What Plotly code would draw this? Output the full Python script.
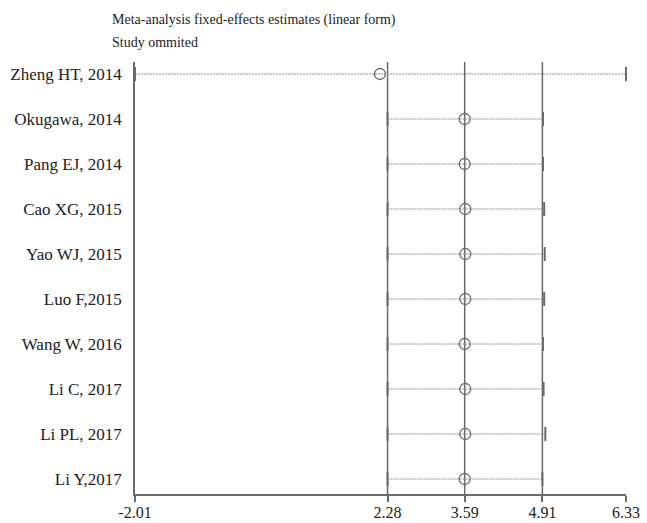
import plotly.graph_objects as go

# Leave-one-out sensitivity analysis: pooled estimate with each study omitted
studies = ["Zheng HT, 2014", "Okugawa, 2014", "Pang EJ, 2014", "Cao XG, 2015",
           "Yao WJ, 2015", "Luo F,2015", "Wang W, 2016", "Li C, 2017",
           "Li PL, 2017", "Li Y,2017"]
estimate = [2.15, 3.59, 3.59, 3.60, 3.60, 3.60, 3.59, 3.60, 3.60, 3.59]
lower = [-2.01, 2.28, 2.28, 2.28, 2.28, 2.28, 2.28, 2.28, 2.28, 2.28]
upper = [6.33, 4.92, 4.92, 4.94, 4.95, 4.94, 4.92, 4.93, 4.96, 4.91]

# Overall pooled estimate with CI (reference lines) and axis ticks
ref_lines = [2.28, 3.59, 4.91]
x_ticks = [-2.01, 2.28, 3.59, 4.91, 6.33]
x_tick_labels = ["-2.01", "2.28", "3.59", "4.91", "6.33"]

n = len(studies)
ypos = [n - 1 - i for i in range(n)]

GREY = "#8c8c8c"
DARK = "#6a6a6a"
FONT = "Liberation Serif"

fig = go.Figure()

# dotted CI segments
for lo, hi, y in zip(lower, upper, ypos):
    fig.add_trace(go.Scatter(
        x=[lo, hi], y=[y, y], mode="lines",
        line=dict(color=GREY, width=1, dash="2px,1px"),
        hoverinfo="skip", showlegend=False))

# CI end caps
fig.add_trace(go.Scatter(
    x=lower + upper, y=ypos + ypos, mode="markers",
    marker=dict(symbol="line-ns", size=10, line=dict(color=DARK, width=2)),
    hoverinfo="skip", showlegend=False, cliponaxis=False))

# point estimates
fig.add_trace(go.Scatter(
    x=estimate, y=ypos, mode="markers",
    marker=dict(symbol="circle-open", size=11, color=DARK,
                line=dict(color=DARK, width=1.3)),
    text=studies, hovertemplate="%{text}: %{x}<extra></extra>",
    showlegend=False))

# vertical reference lines at pooled estimate and CI bounds
for xv in ref_lines:
    fig.add_shape(type="line", xref="x", yref="paper",
                  x0=xv, x1=xv, y0=0, y1=1,
                  line=dict(color=DARK, width=1.5), layer="below")

fig.add_annotation(text="Meta-analysis fixed-effects estimates (linear form)",
                   xref="paper", yref="paper", x=-0.05, y=1.097,
                   xanchor="left", yanchor="middle", showarrow=False,
                   font=dict(family=FONT, size=14, color="#222"))
fig.add_annotation(text="Study ommited",
                   xref="paper", yref="paper", x=-0.05, y=1.044,
                   xanchor="left", yanchor="middle", showarrow=False,
                   font=dict(family=FONT, size=14, color="#222"))

fig.update_layout(
    width=647, height=523,
    margin=dict(l=135, r=21, t=62, b=29),
    paper_bgcolor="white", plot_bgcolor="white",
    font=dict(family=FONT, size=14, color="#222"),
    xaxis=dict(range=[x_ticks[0], x_ticks[-1]], tickvals=x_ticks,
               ticktext=x_tick_labels, showgrid=False, zeroline=False,
               showline=True, linecolor=DARK, linewidth=1.5,
               ticks="outside", ticklen=6, tickwidth=1.5, tickcolor=DARK,
               ticklabelstandoff=-3, automargin=False,
               tickfont=dict(family=FONT, size=16, color="#222")),
    yaxis=dict(range=[-0.333, n - 1 + 0.267], tickvals=ypos,
               ticktext=studies, showgrid=False, zeroline=False,
               showline=True, linecolor=DARK, linewidth=1.5,
               ticks="", ticklabelstandoff=8, automargin=False,
               tickfont=dict(family=FONT, size=17, color="#222")),
)

fig.write_html("out.html")
